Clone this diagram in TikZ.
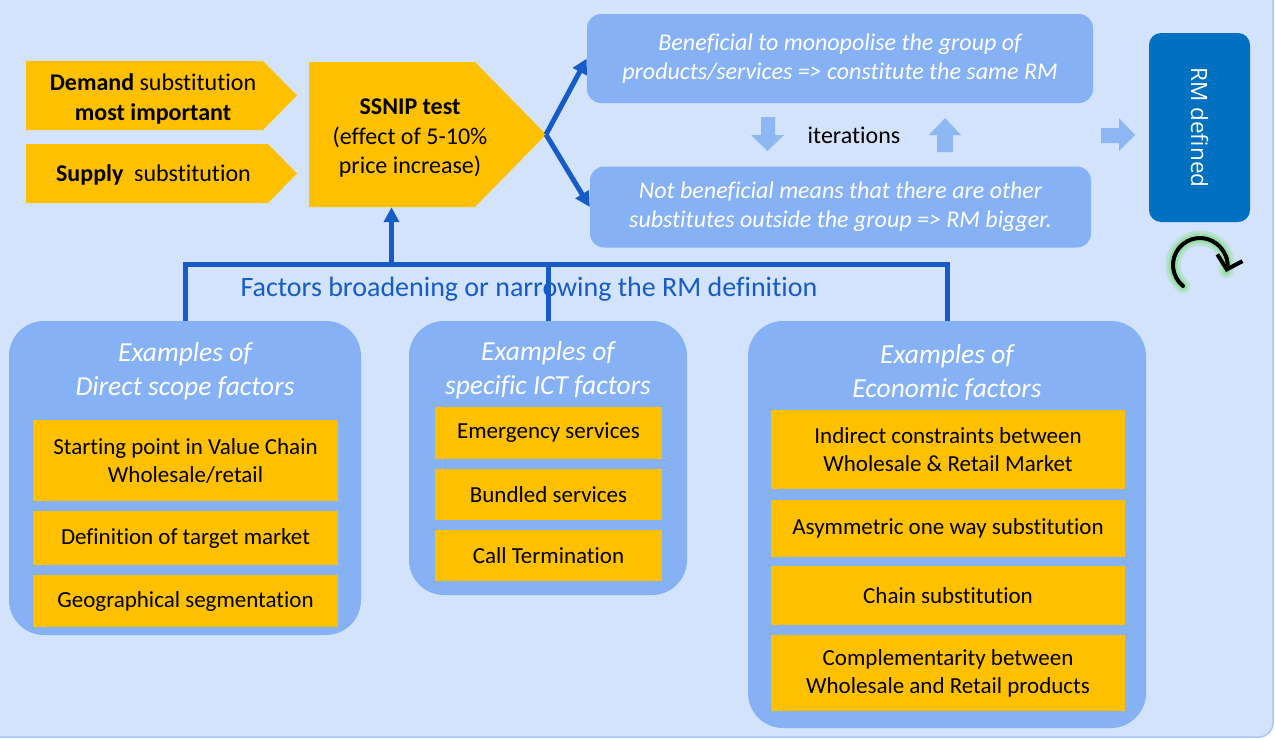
\documentclass[tikz,border=0pt]{standalone}
\usepackage{fontspec}
\setmainfont{Carlito}[Ligatures=NoCommon]
\newfontfamily\rmdfont{Open Sans}
\usetikzlibrary{arrows.meta,positioning}

\definecolor{bgblue}{HTML}{D2E3FB}
\definecolor{edgeblue}{HTML}{A9C7F3}
\definecolor{boxblue}{HTML}{86B2F5}
\definecolor{linkblue}{HTML}{175BC8}
\definecolor{gold}{HTML}{FFC000}
\definecolor{rmblue}{HTML}{0070C0}
\definecolor{iterblue}{HTML}{8DB8F4}
\definecolor{glow}{HTML}{7EDC78}

\begin{document}
\begin{tikzpicture}[x=1pt,y=-1pt,
    panel/.style={rounded corners=35pt, fill=boxblue, inner sep=0pt},
    item/.style={fill=gold, inner sep=0pt, align=center, font=\fontsize{23}{28}\selectfont},
    lead/.style={inner sep=0pt, align=center, font=\fontsize{24}{29.5}\selectfont},
    outcome/.style={rounded corners=14pt, fill=boxblue, text=white, inner sep=0pt, align=center, font=\fontsize{24}{29}\selectfont\itshape},
    title/.style={text=white, inner sep=0pt, align=center, font=\fontsize{27.5}{34}\selectfont\itshape},
    link/.style={draw=linkblue, line width=5pt},
    arrow/.style={link, -{Triangle[length=15pt,width=15pt]}}
]

\useasboundingbox (0,0) rectangle (1275,739);
\fill[white] (0,0) rectangle (1275,739);
\draw[fill=bgblue, draw=edgeblue, line width=1.5pt, rounded corners=14pt] (-20,-20) rectangle (1273,737);

% substitution and SSNIP
\fill[gold] (26,61) -- (263,61) -- (297,95.5) -- (263,130) -- (26,130) -- cycle;
\node[lead] (demand) at (153,99) {\textbf{Demand} substitution\\\textbf{most important}};
\fill[gold] (26,144) -- (268,144) -- (297,173.5) -- (268,203) -- (26,203) -- cycle;
\node[lead] (supply) at (153.5,174.5) {\textbf{Supply}\ \ substitution};
\fill[gold] (309,62) -- (475,62) -- (546,134.5) -- (475,207) -- (309,207) -- cycle;
\node[lead, minimum height=137pt] (ssnip) at (410,138.5) {\textbf{SSNIP test}\\(effect of 5-10\%\\price increase)};
\coordinate (ssniptip) at (546,134.5);

% outcomes
\node[outcome, minimum width=506pt, minimum height=89pt] (benef) at (840,58.5) {Beneficial to monopolise the group of\\products/services => constitute the same RM};
\node[outcome, minimum width=501pt, minimum height=81pt] (notben) at (840.5,207) {Not beneficial means that there are other\\substitutes outside the group => RM bigger.};
\draw[arrow] (ssniptip) -- (benef.west);
\draw[arrow] (ssniptip) -- (notben.west);

\node[font=\fontsize{24}{29}\selectfont] (iter) at (854,135) {iterations};
\fill[iterblue] (761,117) -- (775,117) -- (775,135) -- (784,135) -- (767.5,151) -- (751,135) -- (761,135) -- cycle;
\fill[iterblue] (937,152) -- (953,152) -- (953,135) -- (961,135) -- (945,118) -- (929,135) -- (937,135) -- cycle;
\fill[iterblue] (1101,128) -- (1119,128) -- (1119,118) -- (1135,135) -- (1119,151) -- (1119,143) -- (1101,143) -- cycle;

\node[rotate=-90, rounded corners=12pt, fill=rmblue, text=white, minimum width=189pt, minimum height=101pt,
      font=\rmdfont\fontsize{22.5}{27}\selectfont] (rmbox) at (1199.5,127.5) {RM defined};

\coordinate (loopc) at (1200,265);
\draw[glow, opacity=0.3, line width=15pt, line cap=round, line join=round]
    ([shift={(129:27)}]loopc) arc[start angle=129, end angle=372, radius=27];
\draw[glow, opacity=0.5, line width=9pt, line cap=round, line join=round]
    ([shift={(129:27)}]loopc) arc[start angle=129, end angle=372, radius=27];
\draw[black, line width=4pt, line cap=round, -{Straight Barb[length=12pt,width=26pt]}]
    ([shift={(129:27)}]loopc) arc[start angle=129, end angle=375, radius=27];

% factor panels
\node[panel, minimum width=352pt, minimum height=314pt] (direct) at (185,478) {};
\node[title] (directtitle) at (185,371) {Examples of\\Direct scope factors};
\node[item, minimum width=305pt, minimum height=81pt] (start) at (185.5,460.5) {Starting point in Value Chain\\Wholesale/retail};
\node[item, minimum width=305pt, minimum height=54pt] (target) at (185.5,538) {Definition of target market};
\node[item, minimum width=305pt, minimum height=52pt] (geo) at (185.5,601) {Geographical segmentation};

\node[panel, minimum width=278pt, minimum height=274pt] (ict) at (548,458) {};
\node[title] (icttitle) at (548,370) {Examples of\\specific ICT factors};
\node[item, minimum width=227pt, minimum height=52pt] (emerg) at (548.5,433) {Emergency services};
\node[item, minimum width=227pt, minimum height=51pt] (bundle) at (548.5,494.5) {Bundled services};
\node[item, minimum width=227pt, minimum height=51pt] (callterm) at (548.5,555.5) {Call Termination};

\node[panel, minimum width=398pt, minimum height=407pt] (econ) at (947,524.5) {};
\node[title] (econtitle) at (947,373) {Examples of\\Economic factors};
\node[item, minimum width=354pt, minimum height=79pt] (indirect) at (948,449.5) {Indirect constraints between\\Wholesale \& Retail Market};
\node[item, minimum width=354pt, minimum height=57pt] (asym) at (948,528.5) {Asymmetric one way substitution};
\node[item, minimum width=354pt, minimum height=59pt] (chain) at (948,595.5) {Chain substitution};
\node[item, minimum width=354pt, minimum height=76pt] (compl) at (948,673) {Complementarity between\\Wholesale and Retail products};

% links to SSNIP
\node[text=linkblue, font=\fontsize{28}{34}\selectfont] (factors) at (529,289) {Factors broadening or narrowing the RM definition};
\coordinate (hub) at (391.5,264.5);
\draw[link] (direct.north) -- (direct.north |- hub) -- (econ.north |- hub) -- (econ.north);
\draw[link] (ict.north) -- (ict.north |- hub);
\draw[arrow] (hub) -- (hub |- ssnip.south);

\end{tikzpicture}
\end{document}
